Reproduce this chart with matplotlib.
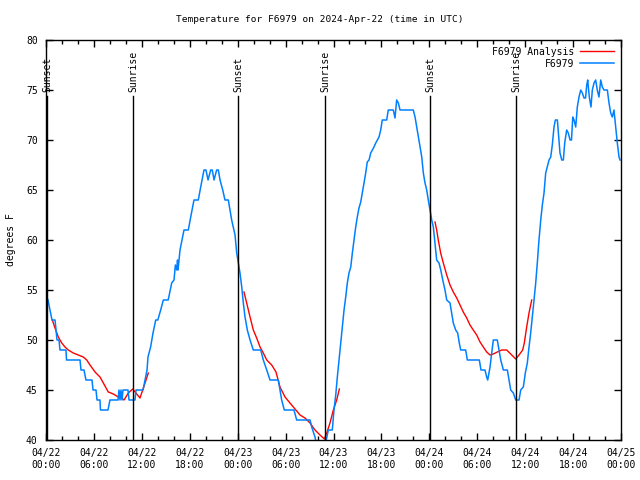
import numpy as np
import matplotlib
matplotlib.use("Agg")
import matplotlib.pyplot as plt
from matplotlib.ticker import MultipleLocator

# hours since 2024-04-22 00:00 UTC
obs_hours = [0.0, 0.25, 0.75, 1.13, 1.38, 1.63, 1.75, 2.5, 2.57, 4.26, 4.38, 4.76, 5.0, 5.76,
             5.89, 6.26, 6.39, 6.76, 6.82, 7.76, 8.01, 9.02, 9.14, 9.27, 9.39, 9.52, 9.64,
             10.27, 10.39, 11.14, 11.27, 12.15, 12.4, 12.65, 12.77, 13.1, 13.4, 13.74, 14.0,
             14.36, 14.69, 15.3, 15.74, 16.03, 16.2, 16.37, 16.47, 16.53, 16.78, 17.28, 17.82,
             18.12, 18.53, 19.07, 19.37, 19.78, 20.03, 20.29, 20.62, 20.82, 21.04, 21.37, 21.58,
             21.79, 22.13, 22.41, 22.83, 23.04, 23.25, 23.67, 23.88, 24.08, 24.29, 24.51, 24.71,
             24.92, 25.21, 25.55, 25.96, 26.89, 27.21, 27.64, 28.05, 29.09, 29.3, 29.51, 29.84,
             31.05, 31.39, 33.06, 33.27, 33.68, 33.9, 34.94, 35.15, 35.35, 35.85, 36.06, 36.28,
             36.48, 36.69, 36.9, 37.1, 37.32, 37.53, 37.73, 37.94, 38.16, 38.36, 38.57, 38.78,
             38.98, 39.19, 39.41, 39.61, 39.82, 40.03, 40.23, 40.45, 40.66, 40.86, 41.07, 41.29,
             41.49, 41.7, 41.91, 42.11, 42.66, 42.86, 43.49, 43.7, 43.91, 44.12, 44.33, 45.99,
             46.21, 46.42, 46.62, 46.83, 47.05, 47.25, 47.46, 47.67, 47.87, 48.09, 48.3, 48.5,
             48.71, 48.92, 49.21, 49.43, 49.68, 49.96, 50.18, 50.59, 50.8, 51.0, 51.3, 51.55,
             51.75, 51.93, 52.55, 52.76, 54.26, 54.47, 54.97, 55.18, 55.31, 55.6, 55.81, 56.01,
             56.51, 56.73, 56.94, 57.27, 57.77, 57.98, 58.19, 58.52, 58.82, 59.23, 59.44, 59.77,
             60.02, 60.27, 60.44, 60.69, 60.9, 61.11, 61.32, 61.52, 61.73, 61.95, 62.15, 62.36,
             62.57, 62.77, 62.99, 63.2, 63.4, 63.61, 63.78, 64.03, 64.2, 64.36, 64.58, 64.78,
             64.95, 65.2, 65.4, 65.62, 65.8, 65.96, 66.12, 66.33, 66.53, 66.74, 66.96, 67.16,
             67.37, 67.56, 67.71, 67.83, 68.03, 68.24, 68.41, 68.62, 68.83, 69.03, 69.24, 69.46,
             69.66, 69.87, 70.29, 70.5, 70.71, 70.91, 71.12, 71.34, 71.54, 71.75, 71.88]
obs_temp = [54.5, 54, 52, 52, 50, 50, 49, 49, 48, 48, 47, 47, 46, 46,
            45, 45, 44, 44, 43, 43, 44, 44, 45, 44, 45, 44, 45,
            45, 44, 44, 45, 45, 46, 47, 48.3, 49.3, 50.7, 52, 52,
            53, 54, 54, 55.7, 56, 57.5, 57, 58, 57, 59, 61, 61,
            62.3, 64, 64, 65.3, 67, 67, 66, 67, 67, 66, 67, 67,
            66, 65, 64, 64, 63, 62, 60.5, 58.7, 57.7, 56.7, 55.3, 53.7,
            52.3, 51, 50, 49, 49, 48, 47, 46, 46, 45, 44, 43,
            43, 42, 42, 41.3, 40.3, 39.5, 39.5, 40.2, 41, 41, 43, 44.5,
            46.3, 48, 49.7, 51.3, 53, 54.3, 55.7, 56.7, 57.3, 58.7, 60, 61.3,
            62.3, 63.2, 63.8, 64.7, 65.7, 66.7, 67.8, 68, 68.7, 69, 69.3, 69.7,
            70, 70.3, 71, 72, 72, 73, 73, 72.2, 74, 73.7, 73, 73,
            72.3, 71.3, 70.3, 69.3, 68.3, 66.7, 65.7, 65, 64, 63, 62, 61.3,
            59.7, 58, 57.7, 57, 56, 55, 54, 53.7, 52.7, 51.7, 51, 50.7,
            49.7, 49, 49, 48, 48, 47, 47, 46.3, 46, 47.3, 48.7, 50,
            50, 49, 48, 47, 47, 46, 45, 44.7, 44, 44, 45, 45.3,
            46.7, 47.7, 49, 50.7, 52.3, 54, 55.7, 57.7, 60, 62, 63.5, 64.7,
            66.7, 67.3, 68, 68.3, 69.5, 71.3, 72, 72, 70.3, 68.7, 68, 68,
            69.7, 71, 70.7, 70, 70, 72.3, 72, 71.3, 73.3, 74.3, 75, 74.7,
            74.2, 74.2, 75.5, 76, 74.3, 73.3, 75, 75.7, 76, 75, 74.3, 76,
            75.3, 75, 75, 73.7, 72.7, 72.3, 73, 71.3, 69.7, 68.3, 68]

# analysis runs, one per night
an1_hours = [0.79, 1.13, 1.54, 1.97, 2.38, 2.79, 3.42, 4.04, 4.67, 5.1, 5.51, 6.14, 6.76,
             7.18, 7.8, 8.43, 9.05, 9.48, 9.77, 10.31, 10.86, 11.36, 11.77, 12.11, 12.4, 12.81]
an1_temp = [52, 51.2, 50.3, 49.7, 49.3, 49, 48.7, 48.5, 48.3, 48, 47.5, 46.8, 46.3,
            45.7, 44.8, 44.6, 44.3, 44.2, 44, 44.7, 45.1, 44.6, 44.2, 45, 45.7, 46.7]
an2_hours = [24.79, 25.13, 25.55, 25.96, 26.38, 26.8, 27.21, 27.64, 28.26, 28.8, 29.3, 29.93,
             30.55, 31.18, 31.81, 32.43, 33.06, 33.68, 34.31, 34.85, 35.15, 35.56, 35.98,
             36.4, 36.73]
an2_temp = [54.8, 53.7, 52.3, 51, 50.2, 49.3, 48.7, 48, 47.5, 46.8, 45.3, 44.3,
            43.7, 43.1, 42.5, 42.2, 41.7, 41, 40.5, 40.1, 40.7, 41.7, 43,
            44, 45.1]
an3_hours = [48.71, 48.92, 49.12, 49.42, 49.75, 50.18, 50.59, 51.0, 51.43, 51.84, 52.25,
             52.68, 53.09, 53.5, 53.93, 54.35, 54.76, 55.18, 55.6, 56.01, 56.51, 57.06,
             57.69, 58.19, 58.82, 59.23, 59.69, 59.89, 60.19, 60.48, 60.82]
an3_temp = [61.8, 61, 60, 58.7, 57.7, 56.5, 55.5, 54.8, 54.2, 53.5, 52.8,
            52.2, 51.5, 51, 50.5, 49.8, 49.3, 48.8, 48.5, 48.6, 48.8, 49,
            49, 48.6, 48.1, 48.5, 49, 49.7, 51.3, 52.7, 54]

event_hours = [0.13, 10.89, 24.04, 34.94, 48.09, 58.85]
event_names = ["Sunset", "Sunrise", "Sunset", "Sunrise", "Sunset", "Sunrise"]

tick_hours = list(range(0, 73, 6))
tick_labels = ["04/22\n00:00", "04/22\n06:00", "04/22\n12:00", "04/22\n18:00",
               "04/23\n00:00", "04/23\n06:00", "04/23\n12:00", "04/23\n18:00",
               "04/24\n00:00", "04/24\n06:00", "04/24\n12:00", "04/24\n18:00",
               "04/25\n00:00"]

plt.rcParams['font.family'] = ['DejaVu Sans Mono']
plt.rcParams['font.size'] = 7

fig = plt.figure(figsize=(6.4, 4.8), dpi=100)
ax = fig.add_axes([46 / 640, 40 / 480, 575 / 640, 400 / 480])

an_h = an1_hours + [np.nan] + an2_hours + [np.nan] + an3_hours
an_t = an1_temp + [np.nan] + an2_temp + [np.nan] + an3_temp
ax.plot(an_h, an_t, color='#ff0000', lw=1, label='F6979 Analysis')
ax.plot(obs_hours, obs_temp, color='#0080ff', lw=1.1, label='F6979')

for h, name in zip(event_hours, event_names):
    ax.plot([h, h], [40, 74.4], color='black', lw=1)
    ax.text(h, 74.8, name, rotation=90, ha='center', va='bottom', fontsize=7)

ax.set_xlim(0, 72)
ax.set_ylim(40, 80)
ax.set_xticks(tick_hours)
ax.set_xticklabels(tick_labels)
ax.xaxis.set_minor_locator(MultipleLocator(2))
ax.yaxis.set_major_locator(MultipleLocator(5))
ax.tick_params(which='both', direction='in', top=True, right=True, width=1)
ax.tick_params(which='major', length=5, pad=6)
ax.tick_params(which='minor', length=3)
for s in ax.spines.values():
    s.set_linewidth(1)

ax.set_ylabel('degrees F')
ax.yaxis.set_label_coords(-30 / 575, 0.5)
fig.text(0.5, 1 - 20 / 480, 'Temperature for F6979 on 2024-Apr-22 (time in UTC)',
         ha='center', va='center', fontsize=6.8)

ax.legend(loc='upper right', frameon=False, markerfirst=False, handlelength=3.5,
          borderaxespad=0.3, labelspacing=0.2, handletextpad=0.6)

fig.savefig('out.png', dpi=100)
